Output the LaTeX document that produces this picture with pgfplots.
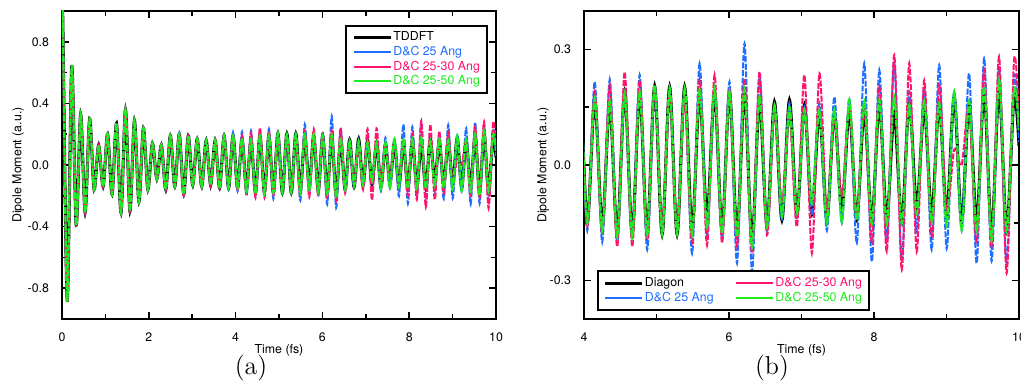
\documentclass[border=0pt]{standalone}
\usepackage{pgfplots}
\pgfplotsset{compat=1.18}
\usepackage{pgfplotstable}
\usepackage{fontspec}
\newfontfamily\hel{TeX Gyre Heros}
\definecolor{dcblue}{RGB}{30,110,255}
\definecolor{dcpink}{RGB}{255,20,110}
\definecolor{dcgreen}{RGB}{30,235,30}
\newcommand{\fs}{\hel\fontsize{6.2}{7.4}\selectfont}

\pgfplotstableread{
t tdd b25 p2530 g2550
0.000 0.85 0.85 0.85 0.85
0.017 0.97 0.97 0.97 0.97
0.120 -0.88 -0.88 -0.88 -0.88
0.224 0.64 0.64 0.64 0.64
0.327 -0.39 -0.39 -0.39 -0.39
0.430 0.33 0.33 0.33 0.33
0.533 -0.31 -0.31 -0.31 -0.31
0.637 0.30 0.30 0.30 0.30
0.740 -0.16 -0.16 -0.16 -0.16
0.843 0.13 0.13 0.13 0.13
0.947 -0.14 -0.14 -0.14 -0.14
1.050 0.20 0.20 0.20 0.20
1.153 -0.19 -0.19 -0.19 -0.19
1.256 0.27 0.27 0.27 0.27
1.360 -0.31 -0.31 -0.31 -0.31
1.463 0.36 0.36 0.36 0.36
1.566 -0.30 -0.30 -0.30 -0.30
1.669 0.29 0.29 0.29 0.29
1.773 -0.24 -0.24 -0.24 -0.24
1.876 0.24 0.24 0.24 0.24
1.979 -0.16 -0.16 -0.16 -0.16
2.083 0.14 0.14 0.14 0.14
2.186 -0.09 -0.09 -0.09 -0.09
2.289 0.13 0.13 0.13 0.13
2.392 -0.16 -0.16 -0.16 -0.16
2.496 0.19 0.19 0.19 0.19
2.599 -0.14 -0.14 -0.14 -0.14
2.702 0.20 0.21 0.20 0.20
2.806 -0.19 -0.19 -0.20 -0.19
2.909 0.19 0.19 0.19 0.19
3.012 -0.13 -0.13 -0.13 -0.13
3.115 0.17 0.17 0.17 0.17
3.219 -0.14 -0.14 -0.14 -0.14
3.322 0.16 0.16 0.16 0.16
3.425 -0.13 -0.13 -0.13 -0.13
3.529 0.16 0.16 0.16 0.16
3.632 -0.15 -0.15 -0.15 -0.15
3.735 0.19 0.20 0.19 0.19
3.838 -0.15 -0.16 -0.15 -0.15
3.942 0.19 0.215 0.19 0.19
4.045 -0.15 -0.17 -0.16 -0.15
4.148 0.17 0.216 0.19 0.173
4.251 -0.16 -0.20 -0.18 -0.17
4.355 0.16 0.222 0.208 0.165
4.458 -0.18 -0.20 -0.212 -0.186
4.561 0.19 0.19 0.242 0.186
4.665 -0.18 -0.19 -0.212 -0.186
4.768 0.19 0.234 0.22 0.19
4.871 -0.18 -0.22 -0.195 -0.18
4.974 0.205 0.20 0.20 0.208
5.078 -0.18 -0.17 -0.16 -0.18
5.181 0.203 0.19 0.18 0.20
5.284 -0.18 -0.17 -0.16 -0.18
5.388 0.203 0.19 0.17 0.20
5.491 -0.17 -0.23 -0.20 -0.18
5.594 0.186 0.264 0.22 0.195
5.697 -0.135 -0.18 -0.208 -0.16
5.801 0.19 0.195 0.234 0.20
5.904 -0.17 -0.19 -0.203 -0.177
6.007 0.19 0.216 0.195 0.19
6.111 -0.18 -0.255 -0.212 -0.186
6.214 0.19 0.316 0.225 0.195
6.317 -0.20 -0.277 -0.229 -0.212
6.420 0.17 0.23 0.242 0.177
6.524 -0.16 -0.17 -0.182 -0.16
6.627 0.164 0.15 0.14 0.156
6.730 -0.143 -0.14 -0.10 -0.134
6.834 0.169 0.16 0.125 0.15
6.937 -0.13 -0.14 -0.16 -0.125
7.040 0.156 0.15 0.234 0.143
7.143 -0.126 -0.13 -0.229 -0.10
7.247 0.14 0.16 0.238 0.143
7.350 -0.143 -0.17 -0.12 -0.15
7.453 0.135 0.177 0.125 0.143
7.556 -0.12 -0.15 -0.08 -0.147
7.660 0.143 0.173 0.15 0.169
7.763 -0.14 -0.203 -0.135 -0.143
7.866 0.143 0.264 0.15 0.165
7.970 -0.15 -0.251 -0.20 -0.152
8.073 0.16 0.247 0.203 0.169
8.176 -0.14 -0.20 -0.225 -0.152
8.279 0.135 0.264 0.286 0.177
8.383 -0.15 -0.247 -0.273 -0.152
8.486 0.165 0.19 0.264 0.156
8.589 -0.108 -0.17 -0.225 -0.125
8.693 0.15 0.20 0.22 0.165
8.796 -0.13 -0.22 -0.186 -0.147
8.899 0.16 0.26 0.208 0.16
9.002 -0.13 -0.217 -0.12 -0.156
9.106 0.177 0.19 0.04 0.19
9.209 -0.15 -0.169 0.00 -0.169
9.312 0.16 0.238 0.15 0.165
9.416 -0.15 -0.255 -0.20 -0.17
9.519 0.19 0.277 0.247 0.203
9.622 -0.18 -0.25 -0.212 -0.195
9.725 0.20 0.25 0.281 0.22
9.829 -0.17 -0.255 -0.281 -0.17
9.932 0.18 0.23 0.273 0.195
10.000 0.05 0.06 0.12 0.09
}\dipole

\pgfplotsset{
  dip/.style={
    scale only axis, height=154bp,
    axis line style={line width=0.9bp},
    tick align=inside, tick pos=both,
    major tick length=3.5bp, minor tick length=2.3bp,
    every tick/.style={line width=0.8bp, black},
    tick label style={font=\fs},
    /pgf/number format/assume math mode=true,
    xlabel={Time (fs)}, ylabel={Dipole Moment (a.u.)},
    label style={font=\fs},
    xlabel style={at={(axis description cs:0.5,-0.1)}, anchor=center},
    xticklabel style={yshift=-3.2bp},
    yticklabel style={xshift=-3bp, /pgf/number format/.cd, fixed, fixed zerofill, precision=1},
    minor x tick num=1, minor y tick num=1,
    legend cell align=left,
    legend image code/.code={\draw[##1] (0bp,0bp) -- (18.5bp,0bp);},
    legend style={font=\fs, draw=black, line width=0.9bp, inner xsep=3bp, inner ysep=2.3bp,
      nodes={inner sep=0.7bp, text height=4.6bp, text depth=1.3bp}},
  },
  blk/.style={black, line width=1.5bp, smooth},
  blu/.style={dcblue, line width=1.0bp, dash pattern=on 3bp off 0.8bp, smooth},
  pnk/.style={dcpink, line width=1.0bp, dash pattern=on 3bp off 0.8bp, smooth},
  grn/.style={dcgreen, line width=1.15bp, dash pattern=on 3.5bp off 0.7bp, smooth},
}

\begin{document}
\begin{tikzpicture}
\path[use as bounding box] (0,0) rectangle (510.5bp,191.5bp);

\begin{axis}[dip, at={(31bp,32bp)}, anchor=south west, width=217bp,
  xmin=0, xmax=10, ymin=-1, ymax=1,
  xtick={0,2,...,10}, ytick={-0.8,-0.4,0,0.4,0.8},
  ylabel style={at={(axis description cs:-0.101,0.5)}, anchor=center},
  legend style={at={(0.982,0.955)}, anchor=north east}]
\addplot[blk, forget plot] table[x=t, y=tdd] {\dipole};
\addplot[blu, forget plot] table[x=t, y=b25] {\dipole};
\addplot[pnk, forget plot] table[x=t, y=p2530] {\dipole};
\addplot[grn, forget plot] table[x=t, y=g2550] {\dipole};
\addlegendimage{draw=black, line width=1.3bp}
\addlegendentry{TDDFT}
\addlegendimage{draw=dcblue, line width=1bp}
\addlegendentry[text=dcblue]{D\&C 25 Ang}
\addlegendimage{draw=dcpink, line width=1bp}
\addlegendentry[text=dcpink]{D\&C 25-30 Ang}
\addlegendimage{draw=dcgreen, line width=1bp}
\addlegendentry[text=dcgreen]{D\&C 25-50 Ang\hspace{5bp}}
\end{axis}

\begin{axis}[dip, at={(292bp,32bp)}, anchor=south west, width=217.5bp,
  xmin=4, xmax=10, ymin=-0.4, ymax=0.4,
  xtick={4,6,8,10}, ytick={-0.3,0,0.3},
  ylabel style={at={(axis description cs:-0.094,0.5)}, anchor=center},
  legend columns=2,
  legend style={at={(0.030,0.027)}, anchor=south west,
    /tikz/every even column/.append style={column sep=10bp}}]
\addplot[blk, forget plot] table[x=t, y=tdd] {\dipole};
\addplot[blu, forget plot] table[x=t, y=b25] {\dipole};
\addplot[pnk, forget plot] table[x=t, y=p2530] {\dipole};
\addplot[grn, forget plot] table[x=t, y=g2550] {\dipole};
\addlegendimage{draw=black, line width=1.3bp}
\addlegendentry{Diagon}
\addlegendimage{draw=dcpink, line width=1bp}
\addlegendentry[text=dcpink]{D\&C 25-30 Ang}
\addlegendimage{draw=dcblue, line width=1bp}
\addlegendentry[text=dcblue]{D\&C 25 Ang}
\addlegendimage{draw=dcgreen, line width=1bp}
\addlegendentry[text=dcgreen]{D\&C 25-50 Ang}
\end{axis}

\node[font=\fontsize{13}{15}\selectfont] at (125.5bp,7.5bp) {(a)};
\node[font=\fontsize{13}{15}\selectfont] at (386bp,7.5bp) {(b)};
\end{tikzpicture}
\end{document}
